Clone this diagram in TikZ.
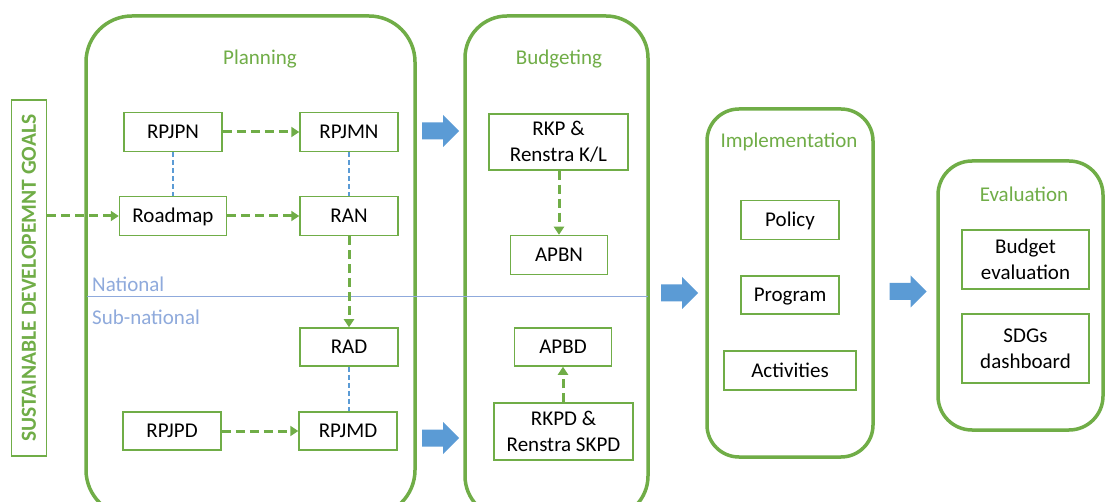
\documentclass[tikz,border=0pt]{standalone}
\usepackage{fontspec}
\setmainfont{Carlito}
\usetikzlibrary{arrows.meta}
\definecolor{grn}{HTML}{70AD47}
\definecolor{blu}{HTML}{5B9BD5}
\definecolor{lblu}{HTML}{8FAADC}
\begin{document}
\begin{tikzpicture}[x=1pt,y=-1pt,
  stage/.style={draw=grn,line width=3.5pt},
  stagetitle/.style={text=grn,font=\fontsize{21}{26}\selectfont},
  item/.style={draw=grn,line width=1.5pt,inner sep=0pt,align=center,font=\fontsize{21}{26}\selectfont},
  one/.style={text height=13.5pt,text depth=0pt},
  flow/.style={draw=grn,line width=3pt,dash pattern=on 9pt off 5pt,-{Triangle[length=8pt,width=10pt]}},
  link/.style={draw=blu,line width=1.5pt,dash pattern=on 5pt off 3pt},
  level/.style={text=lblu,anchor=west,inner sep=0pt,font=\fontsize{21}{26}\selectfont},
  blockarrow/.pic={\fill[blu] (0,-8.5) -- (21,-8.5) -- (21,-16) -- (37,0) -- (21,16) -- (21,8.5) -- (0,8.5) -- cycle;}]
\useasboundingbox (0,0) rectangle (1105,502);
\fill[white] (0,0) rectangle (1105,502);

% stage containers
\draw[stage,rounded corners=46pt] (86,16) rectangle (415,516);
\draw[stage,rounded corners=42pt] (465,16) rectangle (648,518);
\draw[stage,rounded corners=32pt] (707,109) rectangle (873,457);
\draw[stage,rounded corners=34pt] (938,161) rectangle (1103,430);

\node[stagetitle] (tplan) at (260,59) {Planning};
\node[stagetitle] (tbud) at (559,59) {Budgeting};
\node[stagetitle] (timpl) at (789,142) {Implementation};
\node[stagetitle] (teval) at (1024,194) {Evaluation};

% national / sub-national divide
\draw[lblu,line width=1.3pt] (87,296.5) -- (648,296.5);
\node[level] (nat) at (92,284) {National};
\node[level] (sub) at (92,317) {Sub-national};

% SDG bar
\node[draw=grn,line width=1.5pt,text=grn,rotate=90,minimum width=356pt,minimum height=35pt,inner sep=0pt,
      font=\fontsize{21.5}{26}\selectfont\bfseries,text height=13.5pt,text depth=0pt] (sdg) at (29,278) {SUSTAINABLE DEVELOPEMNT GOALS};

% planning items
\node[item,one,minimum width=98pt,minimum height=39pt] (rpjpn) at (173,132) {RPJPN};
\node[item,one,minimum width=98pt,minimum height=39pt] (rpjmn) at (349,132) {RPJMN};
\node[item,one,minimum width=107pt,minimum height=39pt] (roadmap) at (173,216) {Roadmap};
\node[item,one,minimum width=98pt,minimum height=39pt] (ran) at (349,216) {RAN};
\node[item,one,minimum width=98pt,minimum height=38pt] (rad) at (349,347) {RAD};
\node[item,one,minimum width=98pt,minimum height=38pt] (rpjpd) at (172,431) {RPJPD};
\node[item,one,minimum width=98pt,minimum height=38pt] (rpjmd) at (348,431) {RPJMD};

% budgeting items
\node[item,minimum width=139pt,minimum height=56pt] (rkp) at (558.5,142) {RKP \&\\Renstra K/L};
\node[item,one,minimum width=97pt,minimum height=39pt] (apbn) at (559,255) {APBN};
\node[item,one,minimum width=97pt,minimum height=38pt] (apbd) at (563,347) {APBD};
\node[item,minimum width=139pt,minimum height=57pt] (rkpd) at (563.5,431.5) {RKPD \&\\Renstra SKPD};

% implementation items
\node[item,one,minimum width=98pt,minimum height=39pt] (policy) at (790,220) {Policy};
\node[item,one,minimum width=98pt,minimum height=38pt] (program) at (790,295) {Program};
\node[item,one,minimum width=132pt,minimum height=39pt] (activ) at (790,370.5) {Activities};

% evaluation items
\node[item,minimum width=127pt,minimum height=59pt] (beval) at (1025.5,259.5) {Budget\\evaluation};
\node[item,minimum width=127pt,minimum height=69pt] (dash) at (1025.5,348.5) {SDGs\\dashboard};

% flows
\draw[flow] (sdg.south |- roadmap.west) -- (roadmap.west);
\draw[flow] (rpjpn) -- (rpjmn);
\draw[flow] (roadmap) -- (ran);
\draw[flow] (ran) -- (rad);
\draw[flow] (rpjpd) -- (rpjmd);
\draw[flow] (rkp.south -| apbn.north) -- (apbn.north);
\draw[flow] (rkpd.north -| apbd.south) -- (apbd.south);

% links
\draw[link] (rpjpn) -- (roadmap);
\draw[link] (rpjmn) -- (ran);
\draw[link] (rad.south) -- (rad.south |- rpjmd.north);

% block arrows
\pic at (422,131) {blockarrow};
\pic at (422,438) {blockarrow};
\pic at (661,293) {blockarrow};
\pic at (889.5,291.5) {blockarrow};
\end{tikzpicture}
\end{document}
